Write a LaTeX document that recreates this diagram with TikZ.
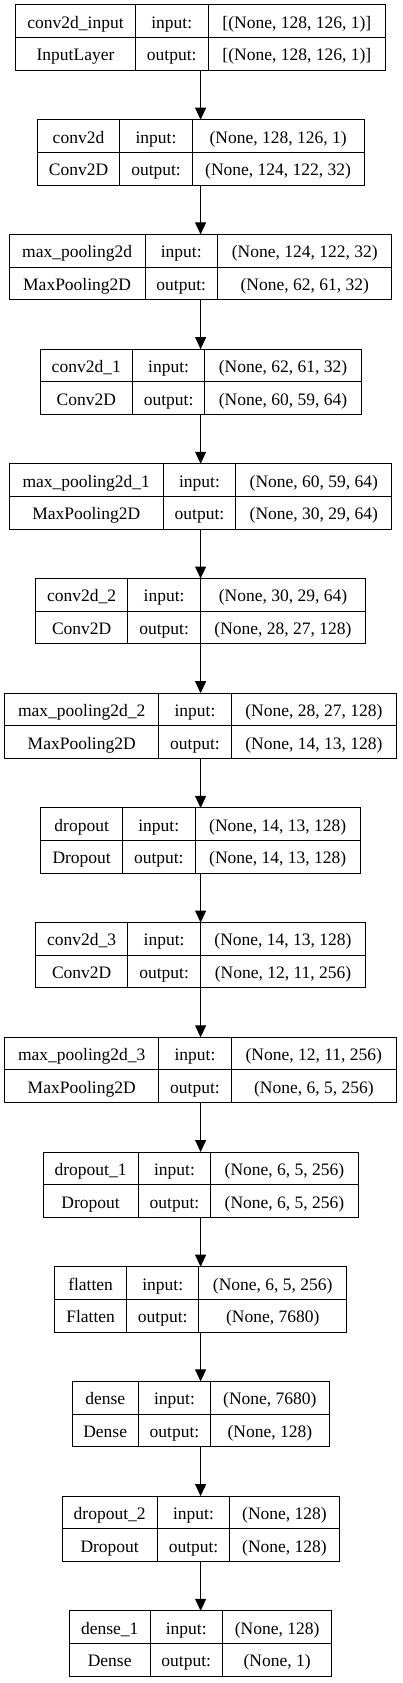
\documentclass[tikz,border=0pt]{standalone}
\usepackage{fontspec}
\setmainfont{LiberationSerif-Regular.ttf}
\usetikzlibrary{arrows.meta,positioning}

\newcommand{\kfont}{\rmfamily\fontsize{17.5}{20}\selectfont}

% one layer table: #1 name, #2 placement, #3 first col width, #4 last col width,
% #5 layer name, #6 layer class, #7 input shape, #8 output shape
\newcommand{\kerasbox}[8]{%
  \node[kbox, minimum width={#3+72.5+#4}, #2] (#1) {};
  \begin{scope}[shift={(#1.north west)}]
    \draw[kline] (#3,0) -- (#3,-65.3);
    \draw[kline] (#3+72.5,0) -- (#3+72.5,-65.3);
    \draw[kline] (0,-32.65) -- (#3+72.5+#4,-32.65);
    \node[kcell] (#1-name) at (#3/2,-23.3) {#5};
    \node[kcell] (#1-cls)  at (#3/2,-56) {#6};
    \node[kcell] (#1-il)   at (#3+36.25,-23.3) {input:};
    \node[kcell] (#1-ol)   at (#3+36.25,-56) {output:};
    \node[kcell] (#1-in)   at (#3+72.5+#4/2,-23.3) {#7};
    \node[kcell] (#1-out)  at (#3+72.5+#4/2,-56) {#8};
  \end{scope}}

\begin{document}
\begin{tikzpicture}[
  x=1pt, y=1pt,
  node distance=49.4pt,
  kbox/.style={draw, line width=1pt, minimum height=65.3pt, inner sep=0pt, outer sep=0pt},
  kline/.style={line width=1pt},
  kcell/.style={anchor=base, inner sep=0pt, font=\kfont},
  flow/.style={line width=1pt, -{Triangle[length=12pt, width=11pt]}}
]
\useasboundingbox (0,0) rectangle (402,-1683);

\kerasbox{inp}{anchor=north, at={(200.6,-5)}}{120}{177.7}{conv2d\_input}{InputLayer}{[(None, 128, 126, 1)]}{[(None, 128, 126, 1)]}
\kerasbox{conv}{below=of inp}{82.6}{171.7}{conv2d}{Conv2D}{(None, 128, 126, 1)}{(None, 124, 122, 32)}
\kerasbox{pool}{below=of conv}{135.7}{174.4}{max\_pooling2d}{MaxPooling2D}{(None, 124, 122, 32)}{(None, 62, 61, 32)}
\kerasbox{conv1}{below=of pool}{92.3}{156.2}{conv2d\_1}{Conv2D}{(None, 62, 61, 32)}{(None, 60, 59, 64)}
\kerasbox{pool1}{below=of conv1}{154}{156.2}{max\_pooling2d\_1}{MaxPooling2D}{(None, 60, 59, 64)}{(None, 30, 29, 64)}
\kerasbox{conv2}{below=of pool1}{92.3}{165.3}{conv2d\_2}{Conv2D}{(None, 30, 29, 64)}{(None, 28, 27, 128)}
\kerasbox{pool2}{below=of conv2}{154}{165.3}{max\_pooling2d\_2}{MaxPooling2D}{(None, 28, 27, 128)}{(None, 14, 13, 128)}
\kerasbox{drop}{below=of pool2}{81.7}{165.3}{dropout}{Dropout}{(None, 14, 13, 128)}{(None, 14, 13, 128)}
\kerasbox{conv3}{below=of drop}{92.3}{165.3}{conv2d\_3}{Conv2D}{(None, 14, 13, 128)}{(None, 12, 11, 256)}
\kerasbox{pool3}{below=of conv3}{154}{165.3}{max\_pooling2d\_3}{MaxPooling2D}{(None, 12, 11, 256)}{(None, 6, 5, 256)}
\kerasbox{drop1}{below=of pool3}{95.2}{147.5}{dropout\_1}{Dropout}{(None, 6, 5, 256)}{(None, 6, 5, 256)}
\kerasbox{flat}{below=of drop1}{71.7}{147.5}{flatten}{Flatten}{(None, 6, 5, 256)}{(None, 7680)}
\kerasbox{dense}{below=of flat}{66}{118.3}{dense}{Dense}{(None, 7680)}{(None, 128)}
\kerasbox{drop2}{below=of dense}{95.2}{109.3}{dropout\_2}{Dropout}{(None, 128)}{(None, 128)}
\kerasbox{dense1}{below=of drop2}{80.6}{109.3}{dense\_1}{Dense}{(None, 128)}{(None, 1)}

\foreach \a/\b in {inp/conv, conv/pool, pool/conv1, conv1/pool1, pool1/conv2,
  conv2/pool2, pool2/drop, drop/conv3, conv3/pool3, pool3/drop1,
  drop1/flat, flat/dense, dense/drop2, drop2/dense1}
  \draw[flow] (\a) -- (\b);
\end{tikzpicture}
\end{document}
